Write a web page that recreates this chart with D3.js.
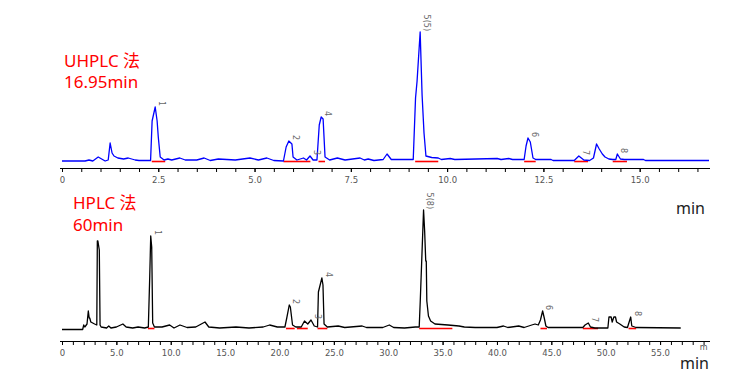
<!DOCTYPE html>
<html>
<head>
<meta charset="utf-8">
<script src="https://cdn.jsdelivr.net/npm/d3@7"></script>
<style>
  body { margin: 0; background: #fff; }
  svg { display: block; }
  .tick text { font-family: "DejaVu Sans", sans-serif; font-size: 8.5px; fill: #555; }
</style>
</head>
<body>
<div id="chart"></div>
<script>
// UHPLC chromatogram (min, signal)
var uhplcTrace = [
  [0, 0], [0.6, 0], [0.7, 1], [0.8, 0], [0.94, 4], [1.12, 0], [1.2, 1], [1.25, 18], [1.3, 8],
  [1.35, 5], [1.45, 3], [1.6, 2], [1.72, 3], [1.9, 1], [2.0, 0.5], [2.3, 0.5],
  [2.34, 40], [2.42, 54], [2.47, 40], [2.5, 24], [2.55, 4], [2.65, 1], [2.75, 2], [2.85, 1],
  [3.06, 3], [3.2, 1], [3.5, 1], [3.69, 3], [3.85, 0.5], [4.06, 2], [4.5, 1], [4.88, 3],
  [5.1, 1], [5.32, 3], [5.5, 0.5], [5.75, 0], [5.82, 14], [5.89, 20], [5.97, 17], [6.0, 4],
  [6.1, 1], [6.27, 3], [6.35, 1], [6.44, 5], [6.52, 1], [6.62, 1], [6.68, 36], [6.73, 44],
  [6.78, 42], [6.83, 4], [6.95, 1], [7.15, 3], [7.35, 1], [7.74, 3], [7.85, 1], [7.95, 2],
  [8.1, 0.5], [8.34, 1.5], [8.44, 7], [8.55, 1.5], [9.12, 1.5], [9.18, 63], [9.22, 80],
  [9.3, 129], [9.35, 66], [9.4, 28], [9.45, 5], [9.6, 3.5], [9.77, 3], [9.85, 1.5],
  [10.08, 2.5], [10.2, 1.5], [11.3, 2.5], [11.4, 1.5], [11.6, 2.5], [11.7, 1.5],
  [12.0, 1.5], [12.05, 15], [12.1, 23], [12.16, 19], [12.23, 3], [12.3, 1.5], [12.7, 1.5],
  [12.75, 0.5], [13.3, 0.5], [13.42, 5], [13.55, 1], [13.7, 0.5], [13.8, 3], [13.88, 17],
  [13.95, 12], [14.03, 7], [14.1, 4], [14.2, 2], [14.3, 1.5], [14.38, 1.5], [14.42, 7],
  [14.5, 2], [14.6, 1.5], [15.1, 1.5], [15.15, 0.5], [16.8, 0.5]
];
var uhplcIntegration = [[2.33, 2.68], [5.75, 6.45], [6.66, 6.83], [9.17, 9.77], [12.0, 12.3], [13.3, 13.66], [14.3, 14.67]];
var uhplcPeakNames = ["1", "2", "3", "4", "5(5)", "6", "7", "8"];
var uhplcPeakTimes = [2.42, 5.89, 6.44, 6.73, 9.3, 12.1, 13.42, 14.42];
var uhplcPeakHeights = [54, 20, 5, 44, 129, 23, 5, 7];
var uhplcTicks = [0, 2.5, 5, 7.5, 10, 12.5, 15];

// HPLC chromatogram (min, signal)
var hplcTrace = [
  [0, -1.5], [1.9, -1.5], [2.0, 3], [2.1, 1], [2.3, 4], [2.42, 17], [2.5, 10], [2.55, 10],
  [2.65, 6], [3.0, 4], [3.2, 3], [3.25, 87], [3.3, 87], [3.43, 78], [3.5, 3], [3.6, 1],
  [4.1, 0], [4.3, 2], [4.5, 0], [5.0, 1], [5.6, 4], [5.9, 1], [6.5, 0], [7.0, 1], [7.6, 0],
  [7.94, 1], [8.07, 52], [8.16, 92], [8.25, 81], [8.34, 5], [8.5, 1], [9.2, 1], [9.9, 3],
  [10.3, 0], [10.85, 3], [11.5, 0.5], [12.3, 1], [13.15, 6], [13.5, 1], [14.5, 0], [16, 1],
  [17.2, 0], [18.5, 1], [19.1, 3], [19.8, 1], [20.5, 1], [20.67, 10], [20.9, 23], [21.0, 21],
  [21.2, 3], [21.5, 1], [22.0, 1], [22.3, 7], [22.6, 4], [22.9, 8], [23.2, 2], [23.5, 1],
  [23.58, 36], [23.9, 50], [24.0, 43], [24.1, 4], [24.4, 1], [25.4, 2], [26, 0.5], [27.6, 2],
  [28, 0.5], [29.5, 0.5], [30.1, 3], [30.5, 0.5], [31.5, 0], [32.5, 1], [32.85, 1],
  [32.95, 28], [33.25, 118], [33.35, 97], [33.45, 67], [33.5, 67], [33.55, 27], [33.7, 12],
  [33.9, 7], [34.3, 4], [35.5, 3], [36.5, 2], [37, 1], [38, 0.5], [40.0, 0.5], [40.6, 2],
  [41, 0.5], [42.0, 2], [42.5, 0.5], [43.2, 3], [43.5, 4], [43.8, 3], [44.0, 8], [44.2, 17],
  [44.35, 10], [44.5, 2], [44.7, 0.5], [47.9, 0.5], [48.1, 3], [48.4, 5], [48.6, 1], [49, 0],
  [50.2, 0], [50.3, 11], [50.5, 11], [50.6, 6], [50.75, 11], [50.9, 11], [51.0, 6], [51.3, 4],
  [51.7, 1], [52.0, 0.5], [52.3, 11], [52.4, 2], [52.8, 0.5], [56.9, 0]
];
var hplcIntegration = [[7.9, 8.5], [20.6, 21.4], [21.6, 22.6], [23.5, 24.4], [32.85, 35.9], [44.0, 44.6], [47.9, 49.3], [52.1, 52.8]];
var hplcPeakNames = ["1", "2", "3", "4", "5(8)", "6", "7", "8"];
var hplcPeakTimes = [8.16, 20.9, 22.9, 23.9, 33.25, 44.2, 48.4, 52.3];
var hplcPeakHeights = [92, 23, 8, 50, 118, 17, 5, 11];
var hplcTicks = [0, 5, 10, 15, 20, 25, 30, 35, 40, 45, 50, 55];

var width = 756, height = 374;
var svg = d3.select("#chart").append("svg")
  .attr("width", width)
  .attr("height", height);

function drawPanel(opt) {
  var x = d3.scaleLinear().domain([0, opt.xMax]).range([62, 709]);
  var y = d3.scaleLinear().domain([0, opt.yMax]).range([opt.base, opt.base - opt.yMax]);
  var g = svg.append("g");

  // axis with minor ticks, then the labelled ones
  var minor = d3.range(0, opt.xMax, opt.minorStep);
  g.append("g")
    .attr("transform", "translate(0," + opt.axisY + ")")
    .call(d3.axisBottom(x).tickValues(minor).tickSize(4).tickFormat(""))
    .call(function(a) { a.select(".domain").attr("d", "M60,0.5H710").attr("stroke", "#000"); });
  g.append("g")
    .attr("transform", "translate(0," + opt.axisY + ")")
    .call(d3.axisBottom(x).tickValues(opt.ticks).tickSize(4).tickPadding(5).tickFormat(opt.fmt))
    .call(function(a) { a.select(".domain").remove(); });

  // red integration baselines
  g.selectAll(".intg")
    .data(opt.integration)
    .enter().append("line")
    .attr("x1", function(d) { return x(d[0]); })
    .attr("x2", function(d) { return x(d[1]); })
    .attr("y1", y(0) + 0.5)
    .attr("y2", y(0) + 0.5)
    .attr("stroke", "#ff0000")
    .attr("stroke-width", 1.6);

  var line = d3.line()
    .x(function(d) { return x(d[0]); })
    .y(function(d) { return y(d[1]); });

  g.append("path")
    .datum(opt.trace)
    .attr("fill", "none")
    .attr("stroke", opt.color)
    .attr("stroke-width", 1.3)
    .attr("stroke-linejoin", "round")
    .attr("d", line);

  // peak labels, rotated
  g.selectAll(".plabel")
    .data(opt.names)
    .enter().append("text")
    .attr("transform", function(d, i) {
      return "translate(" + (x(opt.times[i]) + 3) + "," + (y(opt.heights[i]) - 1) + ") rotate(90)";
    })
    .attr("text-anchor", "end")
    .attr("dy", "-0.1em")
    .style("font-family", "DejaVu Sans, sans-serif")
    .style("font-size", "8px")
    .style("fill", "#666")
    .text(function(d) { return d; });

  return x;
}

drawPanel({
  trace: uhplcTrace, integration: uhplcIntegration,
  names: uhplcPeakNames, times: uhplcPeakTimes, heights: uhplcPeakHeights,
  ticks: uhplcTicks, minorStep: 0.5, xMax: 16.8, yMax: 130,
  base: 161, axisY: 168, color: "#0000ff", fmt: function(d) { return d === 0 ? "0" : d3.format(".1f")(d); }
});

var xb = drawPanel({
  trace: hplcTrace, integration: hplcIntegration,
  names: hplcPeakNames, times: hplcPeakTimes, heights: hplcPeakHeights,
  ticks: hplcTicks, minorStep: 1, xMax: 59.5, yMax: 120,
  base: 328, axisY: 341, color: "#000000", fmt: function(d) { return d === 0 ? "0" : d3.format(".1f")(d); }
});

svg.append("text")
  .attr("x", xb(59)).attr("y", 349.5)
  .attr("text-anchor", "middle")
  .style("font-family", "DejaVu Sans, sans-serif")
  .style("font-size", "8px").style("fill", "#555")
  .text("m");

// annotations
var notes = [
  { t: "UHPLC 法", x: 64, y: 67, c: "#ff0000", s: 17 },
  { t: "16.95min", x: 64, y: 88, c: "#ff0000", s: 17 },
  { t: "HPLC 法", x: 73, y: 209, c: "#ff0000", s: 17 },
  { t: "60min", x: 73, y: 231, c: "#ff0000", s: 17 },
  { t: "min", x: 676, y: 214, c: "#222", s: 16 },
  { t: "min", x: 680, y: 368.5, c: "#222", s: 16 }
];
svg.selectAll(".note")
  .data(notes)
  .enter().append("text")
  .attr("x", function(d) { return d.x; })
  .attr("y", function(d) { return d.y; })
  .style("font-family", "'Noto Sans', 'Noto Sans CJK SC', sans-serif")
  .style("font-size", function(d) { return d.s + "px"; })
  .style("fill", function(d) { return d.c; })
  .text(function(d) { return d.t; });
</script>
</body>
</html>
